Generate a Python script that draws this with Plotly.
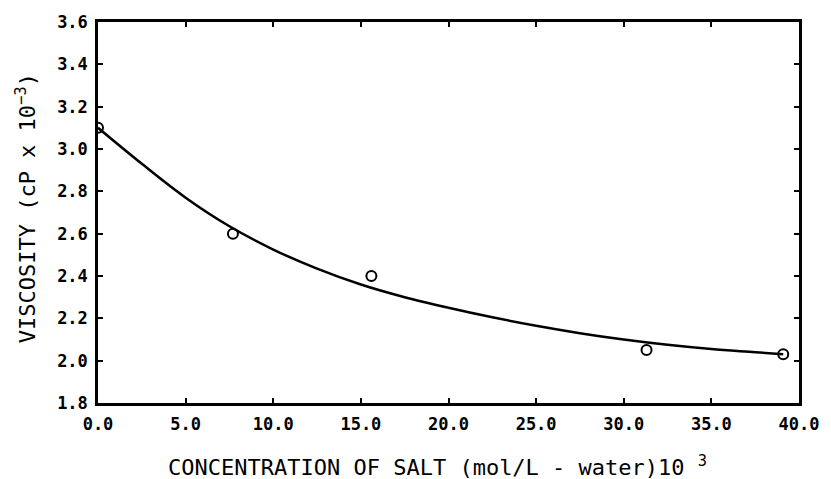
import plotly.graph_objects as go

# Measured viscosity vs. salt concentration
conc = [0.0, 7.7, 15.6, 31.3, 39.1]
visc = [3.10, 2.60, 2.40, 2.05, 2.03]

# Smooth fitted curve through the measurements
curve_x = [0.0, 2.5, 5.0, 7.5, 10.0, 12.5, 15.0, 17.5, 20.0, 22.5, 25.0,
           27.5, 30.0, 32.5, 35.0, 37.5, 39.1]
curve_y = [3.10, 2.93, 2.77, 2.635, 2.525, 2.435, 2.36, 2.30, 2.25, 2.205, 2.165,
           2.13, 2.10, 2.075, 2.055, 2.04, 2.03]

x_ticks = [0, 5, 10, 15, 20, 25, 30, 35, 40]
x_tick_labels = ["0.0", "5.0", "10.0", "15.0", "20.0", "25.0", "30.0", "35.0", "40.0"]
y_ticks = [1.8, 2.0, 2.2, 2.4, 2.6, 2.8, 3.0, 3.2, 3.4, 3.6]
y_tick_labels = ["1.8", "2.0", "2.2", "2.4", "2.6", "2.8", "3.0", "3.2", "3.4", "3.6"]

x_title = "CONCENTRATION OF SALT (mol/L - water)10 <sup>3</sup>"
y_title = "VISCOSITY (cP x 10<sup>−3</sup>)"

MONO = "DejaVu Sans Mono"

fig = go.Figure()
fig.add_trace(go.Scatter(
    x=curve_x, y=curve_y, mode="lines",
    line=dict(color="black", width=2.5, shape="spline"),
    showlegend=False, hoverinfo="skip",
))
fig.add_trace(go.Scatter(
    x=conc, y=visc, mode="markers",
    marker=dict(symbol="circle-open", size=10, color="black",
                line=dict(width=2, color="black")),
    showlegend=False,
))

axis_common = dict(
    showline=True, linecolor="black", linewidth=2.5, mirror="ticks",
    ticks="inside", ticklen=5, tickwidth=2, tickcolor="black",
    showgrid=False, zeroline=False,
    tickfont=dict(family=MONO, size=17, color="black", weight="bold"),
)

fig.update_xaxes(range=[0, 40], tickvals=x_ticks, ticktext=x_tick_labels,
                 ticklabelstandoff=4, **axis_common)
fig.update_yaxes(range=[1.8, 3.6], tickvals=y_ticks, ticktext=y_tick_labels,
                 ticklabelstandoff=4, **axis_common)

fig.add_annotation(
    text=x_title, xref="paper", yref="paper", x=0.485, y=0,
    xanchor="center", yanchor="middle", yshift=-63, showarrow=False,
    font=dict(family=MONO, size=22, color="black"),
)
fig.add_annotation(
    text=y_title, xref="paper", yref="paper", x=0, y=0.511,
    xanchor="center", yanchor="middle", xshift=-72, textangle=-90,
    showarrow=False, font=dict(family=MONO, size=22, color="black"),
)

fig.update_layout(
    width=831, height=479,
    margin=dict(l=98, r=22, t=21, b=76),
    paper_bgcolor="white", plot_bgcolor="white",
)

fig.write_html("out.html")
